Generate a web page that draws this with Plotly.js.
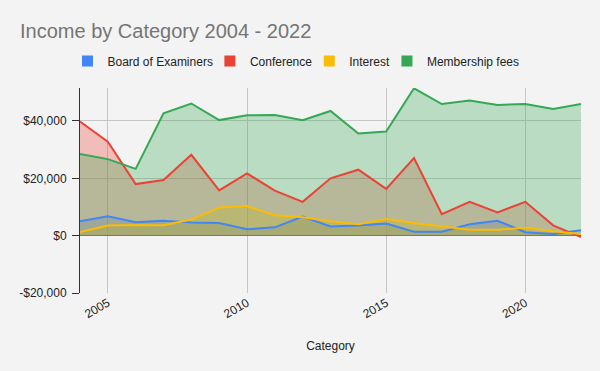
<!DOCTYPE html>
<html>
<head>
<meta charset="utf-8">
<script src="https://cdn.plot.ly/plotly-3.0.1.min.js"></script>
<style>
  html, body { margin: 0; padding: 0; background: #f3f3f3; }
  #chart { width: 600px; height: 371px; }
</style>
</head>
<body>
<div id="chart"></div>
<script>
// ---- data ----
const years = [2004, 2005, 2006, 2007, 2008, 2009, 2010, 2011, 2012, 2013, 2014, 2015, 2016, 2017, 2018, 2019, 2020, 2021, 2022];
const boardOfExaminers = [5000, 6800, 4700, 5200, 4600, 4400, 2200, 2900, 6700, 3200, 3500, 4200, 1400, 1400, 4000, 5200, 1200, 600, 1900];
const conference = [39800, 32800, 18000, 19400, 28200, 15800, 21700, 15700, 11800, 20000, 23000, 16300, 27100, 7500, 11800, 8100, 11800, 3600, -500];
const interest = [1300, 3500, 3700, 3600, 5600, 9800, 10300, 7100, 6400, 5000, 4000, 5800, 4400, 3200, 2100, 2100, 2800, 1500, 600];
const membershipFees = [28500, 26700, 23300, 42700, 46100, 40300, 42000, 42100, 40300, 43500, 35600, 36300, 51400, 45900, 47100, 45600, 45900, 44200, 45900];

const seriesNames = ["Board of Examiners", "Conference", "Interest", "Membership fees"];
const xTickVals = [2005, 2010, 2015, 2020];
const xTickText = ["2005", "2010", "2015", "2020"];
const yTickVals = [-20000, 0, 20000, 40000];
const yTickText = ["-$20,000", "$0", "$20,000", "$40,000"];

// ---- styling ----
const seriesData = [boardOfExaminers, conference, interest, membershipFees];
const colors = ["#4285F4", "#EA4335", "#FBBC04", "#34A853"];
const fills = ["rgba(66,133,244,0.3)", "rgba(234,67,53,0.3)", "rgba(251,188,4,0.3)", "rgba(52,168,83,0.3)"];
const FONT = "Liberation Sans, Arial, sans-serif";

const traces = [];
// fills first
seriesData.forEach((ys, i) => {
  traces.push({
    x: years, y: ys, type: "scatter", mode: "lines",
    fill: "tozeroy", fillcolor: fills[i],
    line: { width: 0, color: colors[i] },
    showlegend: false, hoverinfo: "skip"
  });
});
// lines on top
seriesData.forEach((ys, i) => {
  traces.push({
    x: years, y: ys, type: "scatter", mode: "lines",
    name: seriesNames[i],
    line: { width: 2, color: colors[i] },
    showlegend: false
  });
});
// legend entries (square swatches)
seriesData.forEach((ys, i) => {
  traces.push({
    x: [null], y: [null], type: "scatter", mode: "markers",
    name: seriesNames[i],
    marker: { symbol: "square", size: 11, color: colors[i] },
    showlegend: true
  });
});

const allVals = [].concat(...seriesData);
const yMax = Math.max(...allVals);

const layout = {
  width: 600, height: 371,
  paper_bgcolor: "#f3f3f3",
  plot_bgcolor: "#f3f3f3",
  margin: { l: 80, r: 19, t: 88, b: 77.5, pad: 0 },
  font: { family: FONT, size: 12, color: "#222222" },
  title: {
    text: "Income by Category 2004 - 2022",
    font: { family: FONT, size: 20, color: "#757575" },
    xref: "container", x: 20 / 600, xanchor: "left",
    yref: "container", y: 1 - 31 / 371, yanchor: "middle"
  },
  showlegend: true,
  legend: {
    orientation: "h",
    indentation: -8,
    xref: "container", x: 0.5, xanchor: "center",
    yref: "container", y: 1 - 61 / 371, yanchor: "middle",
    font: { family: FONT, size: 12, color: "#222222" },
    bgcolor: "rgba(0,0,0,0)",
    itemclick: false
  },
  xaxis: {
    range: [2004, 2022],
    tickmode: "array", tickvals: xTickVals, ticktext: xTickText,
    tickangle: -30,
    ticks: "",
    showgrid: true, gridcolor: "#c6c6c6", gridwidth: 1,
    zeroline: false, showline: false,
    tickfont: { family: FONT, size: 12, color: "#222222" },
    title: { text: "Category", font: { family: FONT, size: 12, color: "#222222" }, standoff: 21 }
  },
  yaxis: {
    range: [-20000, yMax + 100],
    tickmode: "array", tickvals: yTickVals, ticktext: yTickText,
    ticks: "outside", ticklen: 7, tickcolor: "#333333", tickwidth: 1,
    showline: true, linecolor: "#333333", linewidth: 1,
    showgrid: true, gridcolor: "#c6c6c6", gridwidth: 1,
    zeroline: true, zerolinecolor: "#555555", zerolinewidth: 1,
    tickfont: { family: FONT, size: 12, color: "#222222" },
    ticklabelstandoff: 3
  },
  hovermode: false
};

Plotly.newPlot("chart", traces, layout, { displayModeBar: false, staticPlot: true });
</script>
</body>
</html>
